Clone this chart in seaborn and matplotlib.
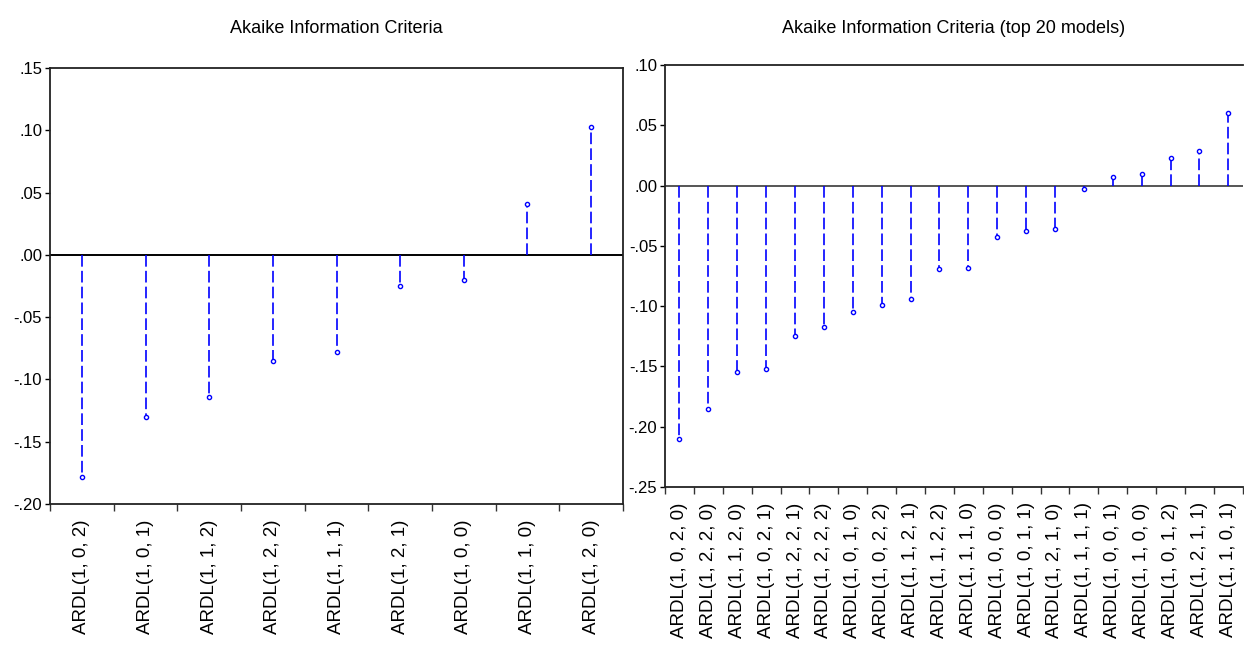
import numpy as np
import pandas as pd
import matplotlib
matplotlib.use("Agg")
import matplotlib.pyplot as plt
from matplotlib.ticker import FuncFormatter
import seaborn as sns

# Left panel: all models
left_models = ["ARDL(1, 0, 2)", "ARDL(1, 0, 1)", "ARDL(1, 1, 2)", "ARDL(1, 2, 2)",
               "ARDL(1, 1, 1)", "ARDL(1, 2, 1)", "ARDL(1, 0, 0)", "ARDL(1, 1, 0)",
               "ARDL(1, 2, 0)"]
left_aic = [-0.178, -0.130, -0.114, -0.085, -0.078, -0.025, -0.020, 0.041, 0.103]

# Right panel: top 20 models
right_models = ["ARDL(1, 0, 2, 0)", "ARDL(1, 2, 2, 0)", "ARDL(1, 1, 2, 0)", "ARDL(1, 0, 2, 1)",
                "ARDL(1, 2, 2, 1)", "ARDL(1, 2, 2, 2)", "ARDL(1, 0, 1, 0)", "ARDL(1, 0, 2, 2)",
                "ARDL(1, 1, 2, 1)", "ARDL(1, 1, 2, 2)", "ARDL(1, 1, 1, 0)", "ARDL(1, 0, 0, 0)",
                "ARDL(1, 0, 1, 1)", "ARDL(1, 2, 1, 0)", "ARDL(1, 1, 1, 1)", "ARDL(1, 0, 0, 1)",
                "ARDL(1, 1, 0, 0)", "ARDL(1, 0, 1, 2)", "ARDL(1, 2, 1, 1)", "ARDL(1, 1, 0, 1)"]
right_aic = [-0.210, -0.185, -0.155, -0.152, -0.125, -0.117, -0.105, -0.099, -0.094, -0.069,
             -0.068, -0.043, -0.038, -0.036, -0.003, 0.007, 0.0095, 0.0225, 0.0285, 0.060]

sns.set_style("white")
plt.rcParams["font.family"] = ["Liberation Sans", "DejaVu Sans"]
plt.rcParams["text.color"] = "black"
plt.rcParams["xtick.color"] = "black"
plt.rcParams["ytick.color"] = "black"

BLUE = "#0000ff"
fmt = FuncFormatter(lambda v, p: f"{v:.2f}".replace("0.", ".", 1))


def stem_panel(ax, models, vals, ylim, yticks, title, pad, zero_color):
    n = len(models)
    df = pd.DataFrame({"model": models, "aic": vals})
    ax.vlines(np.arange(n), 0, df["aic"], colors=BLUE, linewidth=1.2,
              linestyles=(0, (7, 2.5)), zorder=2)
    sns.scatterplot(data=df, x="model", y="aic", ax=ax, marker="o", s=9,
                    facecolor="white", edgecolor=BLUE, linewidth=1.0, zorder=3)
    ax.axhline(0, color=zero_color, linewidth=1.4, zorder=1)
    ax.set_xlim(-0.5, n - 0.5)
    ax.set_ylim(*ylim)
    ax.set_yticks(yticks)
    ax.yaxis.set_major_formatter(fmt)
    ax.set_xticks(np.arange(n))
    ax.set_xticklabels(models, rotation=90, fontsize=13.5)
    ax.set_xticks(np.arange(n + 1) - 0.5, minor=True)
    ax.tick_params(axis="x", which="major", length=0, pad=11)
    ax.tick_params(axis="x", which="minor", length=5, width=1, color="#333333", bottom=True)
    ax.tick_params(axis="y", left=True, length=3.6, width=1, pad=2, labelsize=12)
    ax.set_xlabel("")
    ax.set_ylabel("")
    ax.set_title(title, fontsize=13, pad=pad)
    for s in ax.spines.values():
        s.set_color("#222222")
        s.set_linewidth(1.3)


fig = plt.figure(figsize=(12.44, 6.47), dpi=100)
ax1 = fig.add_axes([0.0402, 0.221, 0.4606, 0.6739])
ax2 = fig.add_axes([0.5346, 0.2473, 0.4644, 0.6522])

stem_panel(ax1, left_models, left_aic, (-0.20, 0.15),
           [-0.20, -0.15, -0.10, -0.05, 0.00, 0.05, 0.10, 0.15],
           "Akaike Information Criteria", 25, "black")
stem_panel(ax2, right_models, right_aic, (-0.25, 0.10),
           [-0.25, -0.20, -0.15, -0.10, -0.05, 0.00, 0.05, 0.10],
           "Akaike Information Criteria (top 20 models)", 23, "#555555")
ax2.spines["right"].set_visible(False)

fig.savefig("out.png", dpi=100, facecolor="white")
